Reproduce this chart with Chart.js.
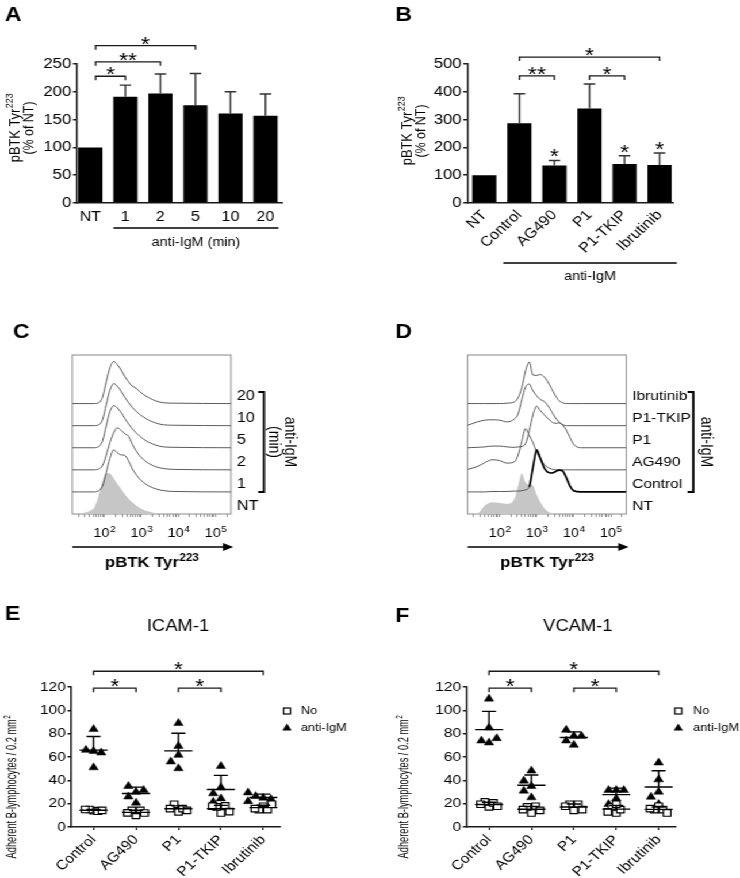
<!DOCTYPE html>
<html>
<head>
<meta charset="utf-8">
<title>pBTK Tyr223 and B-lymphocyte adhesion</title>
<script src="https://cdn.jsdelivr.net/npm/chart.js@4.4.1/dist/chart.umd.min.js"></script>
<style>
  html, body { margin: 0; padding: 0; background: #fff; }
  #fig { position: relative; width: 644px; height: 878px; transform: scaleX(1.15); transform-origin: 0 0; }
  #fig canvas { position: absolute; }
</style>
</head>
<body>
<div id="fig"></div>
<script>
// ----- data -----

// A: pBTK Tyr223 (% of NT) after anti-IgM, by minutes
const timeLabels = ['NT', '1', '2', '5', '10', '20'];
const timeMean = [100, 191, 197, 176, 161, 157];
const timeSD = [0, 21, 35, 57, 39, 39];

// B: pBTK Tyr223 (% of NT) with inhibitors
const treatLabels = ['NT', 'Control', 'AG490', 'P1', 'P1-TKIP', 'Ibrutinib'];
const treatMean = [100, 287, 135, 340, 140, 137];
const treatSD = [0, 106, 18, 88, 30, 43];
const treatStars = ['', '', '*', '', '*', '*'];

// C: histograms, height in % of each curve's mode, x in log decades
const histTimeX = [1.14, 1.7, 1.85, 1.95, 2.05, 2.15, 2.25, 2.35, 2.45, 2.55, 2.65, 2.75, 2.85, 2.95, 3.05, 3.2, 3.4, 3.6, 3.9, 5.42];
const histTime_NT = [0, 12, 45, 78, 97, 96, 85, 72, 60, 47, 37, 28, 21, 15, 10, 6, 2, 1, 0, 0];
const histTime_1 = [0, 0, 3, 14, 46, 80, 100, 93, 88, 87, 74, 56, 42, 31, 23, 14, 7, 3, 1, 0];
const histTime_2 = [0, 0, 2, 10, 35, 65, 88, 100, 94, 86, 80, 62, 46, 34, 25, 15, 7, 3, 1, 0];
const histTime_5 = [0, 0, 3, 16, 52, 86, 100, 95, 84, 70, 57, 46, 36, 28, 21, 13, 6, 2, 1, 0];
const histTime_10 = [0, 0, 2, 14, 50, 84, 100, 94, 82, 68, 55, 44, 35, 27, 21, 13, 6, 2, 1, 0];
const histTime_20 = [0, 0, 2, 15, 52, 85, 100, 93, 80, 65, 52, 42, 37, 29, 22, 14, 6, 2, 1, 0];

// D: histograms with inhibitors
const histTreatX = [1.14, 1.4, 1.6, 1.8, 2.0, 2.2, 2.4, 2.5, 2.6, 2.7, 2.8, 2.9, 3.0, 3.1, 3.2, 3.3, 3.4, 3.5, 3.6, 3.7, 3.8, 3.9, 4.0, 4.2, 5.42];
const histTreat_NT = [0, 1, 20, 28, 26, 24, 36, 68, 96, 75, 70, 68, 46, 28, 15, 6, 2, 0, 0, 0, 0, 0, 0, 0, 0];
const histTreat_Control = [0, 0, 0, 1, 1, 1, 2, 2, 3, 5, 12, 58, 100, 80, 58, 47, 45, 48, 52, 50, 34, 14, 3, 0, 0];
const histTreat_AG490 = [1, 8, 17, 24, 22, 16, 19, 35, 68, 98, 82, 65, 42, 26, 13, 6, 2, 0, 0, 0, 0, 0, 0, 0, 0];
const histTreat_P1 = [0, 1, 2, 4, 4, 2, 1, 2, 3, 10, 40, 78, 99, 88, 79, 70, 62, 58, 59, 54, 42, 24, 8, 0, 0];
const histTreat_TKIP = [1, 9, 13, 14, 13, 9, 16, 28, 62, 92, 99, 83, 71, 62, 58, 48, 34, 20, 9, 3, 0, 0, 0, 0, 0];
const histTreat_Ibru = [0, 0, 0, 0, 0, 1, 4, 14, 38, 78, 99, 68, 67, 69, 64, 52, 36, 20, 7, 2, 0, 0, 0, 0, 0];
const histTreatNames = ['NT', 'Control', 'AG490', 'P1', 'P1-TKIP', 'Ibrutinib'];
const histDecades = [2, 3, 4, 5];

// E, F: adherent B-lymphocytes / 0.2 mm2
const adhGroups = ['Control', 'AG490', 'P1', 'P1-TKIP', 'Ibrutinib'];
const icamNo = [
  [14, 15, 13.5, 15, 14.2],
  [10, 14.3, 14.3, 12.1, 12],
  [12.9, 19.5, 15.8, 15.8, 14.3],
  [12, 17.2, 18.1, 17.8, 13.2],
  [17.8, 14.9, 14.9, 15.8, 19.5]
];
const icamIgM = [
  [83.8, 65.1, 66, 63.7, 51],
  [30, 35, 31.6, 26, 20.7],
  [89, 61.7, 69.4, 56, 50.2],
  [52.2, 33.9, 28.7, 24.4, 21.5],
  [25, 26.4, 23.8, 29.5, 22]
];
const vcamNo = [
  [17.2, 21.5, 20.7, 19.5, 17.8],
  [12, 17.2, 17.8, 14.9, 14.3],
  [14.3, 19.5, 19.5, 17.8, 14.9],
  [12, 17.2, 14.9, 19.5, 12.9],
  [17.8, 14.9, 14.9, 15.8, 12]
];
const vcamIgM = [
  [109.9, 85.2, 72.3, 74, 76],
  [48.2, 35, 39.6, 31, 25.3],
  [78, 83.2, 78, 74, 70.3],
  [31.6, 31.6, 31.6, 24.4, 19.5],
  [55.1, 40.7, 30.1, 25.8, 19.5]
];

// ----- setup -----
const S = 1.15;   // the figure is drawn narrow then stretched, like the original
const FONT = '"Liberation Sans", Arial, Helvetica, sans-serif';
const INK = '#1a1a1a';

Chart.defaults.font.family = FONT;
Chart.defaults.font.size = 12;
Chart.defaults.color = '#000';
Chart.defaults.animation = false;
Chart.defaults.responsive = false;
Chart.defaults.devicePixelRatio = 1;
Chart.defaults.plugins.legend.display = false;
Chart.defaults.plugins.tooltip.enabled = false;

const fig = document.getElementById('fig');

function makeCanvas(box) {
  const c = document.createElement('canvas');
  c.width = Math.round(box.w / S);
  c.height = box.h;
  c.style.left = (box.x / S) + 'px';
  c.style.top = box.y + 'px';
  fig.appendChild(c);
  return c;
}

// figure coords -> canvas coords
function refPos(box) {
  return { x: rx => (rx - box.x) / S, y: ry => ry - box.y };
}

// pins the plot area to a rectangle of the figure
function fitArea(box, area, leftAxis = true, rightW = 0) {
  const yWidth = (area.left - box.x) / S;
  return {
    layout: { padding: {
      left: leftAxis ? 0 : yWidth,
      top: area.top - box.y,
      right: (box.x + box.w - area.right) / S - rightW,
      bottom: 0
    } },
    yWidth: yWidth,
    xHeight: box.y + box.h - area.bottom
  };
}
const fixW = w => s => { s.width = w; s.paddingTop = 0; s.paddingBottom = 0; };
const fixH = h => s => { s.height = h; s.paddingLeft = 0; s.paddingRight = 0; };

function overlay(draw) {
  return { id: 'overlay', afterDraw: chart => { const ctx = chart.ctx; ctx.save(); draw(chart, ctx); ctx.restore(); } };
}

function text(ctx, str, x, y, size, opts = {}) {
  ctx.save();
  ctx.font = (opts.bold ? 'bold ' : '') + size + 'px ' + FONT;
  ctx.fillStyle = '#000';
  ctx.textAlign = opts.align || 'center';
  ctx.textBaseline = opts.baseline || 'middle';
  ctx.translate(x, y);
  if (opts.rotate) ctx.rotate(opts.rotate);
  if (opts.squeeze) ctx.scale(opts.squeeze, 1);
  ctx.fillText(str, 0, 0);
  ctx.restore();
}

// centred text with a raised superscript part
function supText(ctx, base, sup, x, y, size, opts = {}) {
  const w = opts.bold ? 'bold ' : '';
  const bf = w + size + 'px ' + FONT;
  const sf = w + (size * 0.7).toFixed(1) + 'px ' + FONT;
  ctx.save();
  ctx.translate(x, y);
  if (opts.rotate) ctx.rotate(opts.rotate);
  if (opts.squeeze) ctx.scale(opts.squeeze, 1);
  ctx.font = bf;
  const w1 = ctx.measureText(base).width;
  ctx.font = sf;
  const w2 = ctx.measureText(sup).width;
  const x0 = -(w1 + w2) / 2;
  ctx.fillStyle = '#000';
  ctx.textAlign = 'left';
  ctx.textBaseline = 'middle';
  ctx.font = bf;
  ctx.fillText(base, x0, 0);
  ctx.font = sf;
  ctx.fillText(sup, x0 + w1 + 0.5, -size * 0.36);
  ctx.restore();
}

function letter(ctx, at, str, rx, ry) {
  text(ctx, str, at.x(rx), at.y(ry), 20, { bold: true, align: 'left', baseline: 'alphabetic' });
}

function bracket(ctx, x1, x2, y, stars) {
  ctx.strokeStyle = INK;
  ctx.lineWidth = 1.3;
  ctx.beginPath();
  ctx.moveTo(x1, y + 4); ctx.lineTo(x1, y); ctx.lineTo(x2, y); ctx.lineTo(x2, y + 4);
  ctx.stroke();
  text(ctx, stars, (x1 + x2) / 2, y + 5, 20, { baseline: 'alphabetic' });
}

const mean = a => a.reduce((s, v) => s + v, 0) / a.length;
const stdev = a => { const m = mean(a); return Math.sqrt(a.reduce((s, v) => s + (v - m) ** 2, 0) / (a.length - 1)); };

// column scatter: points that would overlap go side by side
function swarm(groups, step, near) {
  const pts = [];
  groups.forEach((vals, g) => {
    const placed = [];
    vals.forEach(v => {
      const slot = [0, -1, 1, -2, 2, -3, 3].find(s => !placed.some(p => p.s === s && Math.abs(p.v - v) < near));
      placed.push({ s: slot, v: v });
      pts.push({ x: g + slot * step, y: v });
    });
  });
  return pts;
}

// ----- A / B: bars with mean + SD -----
function barPanel(c) {
  const f = fitArea(c.box, c.area);
  const at = refPos(c.box);
  new Chart(makeCanvas(c.box), {
    type: 'bar',
    data: {
      datasets: [{
        data: c.mean.map((v, i) => ({ x: i, y: v })),
        backgroundColor: '#000',
        categoryPercentage: 1,
        barPercentage: 0.69
      }]
    },
    options: {
      layout: f.layout,
      scales: {
        x: {
          type: 'linear', min: c.xMin, max: c.xMax, offset: false,
          afterFit: fixH(f.xHeight),
          afterBuildTicks: s => { s.ticks = c.labels.map((_, i) => ({ value: i })); },
          grid: { display: false, drawTicks: false, offset: false },
          border: { color: INK, width: 1.5 },
          ticks: { autoSkip: false, padding: c.tickPad, font: { size: 14 },
                   minRotation: c.rotation, maxRotation: c.rotation, callback: v => c.labels[v] }
        },
        y: {
          min: 0, max: c.yMax,
          afterFit: fixW(f.yWidth),
          ticks: { stepSize: c.yStep, padding: 1.5, font: { size: 14.5 } },
          grid: { drawOnChartArea: false, tickLength: 3.5, color: INK, lineWidth: 1.5 },
          border: { color: INK, width: 1.5 }
        }
      }
    },
    plugins: [overlay((chart, ctx) => {
      const { x, y } = chart.scales;
      letter(ctx, at, c.letter, c.letterAt[0], c.letterAt[1]);
      supText(ctx, 'pBTK Tyr', '223', at.x(c.titleX[0]), at.y(c.titleY), 13.5, { rotate: -Math.PI / 2, squeeze: 0.95 });
      text(ctx, '(% of NT)', at.x(c.titleX[1]), at.y(c.titleY), 13.5, { rotate: -Math.PI / 2, squeeze: 0.92 });

      ctx.strokeStyle = '#333';
      ctx.lineWidth = 1.4;
      c.mean.forEach((m, i) => {
        if (!c.sd[i]) return;
        const px = x.getPixelForValue(i);
        const top = y.getPixelForValue(m + c.sd[i]);
        ctx.beginPath();
        ctx.moveTo(px, y.getPixelForValue(m)); ctx.lineTo(px, top);
        ctx.moveTo(px - 5, top); ctx.lineTo(px + 5, top);
        ctx.stroke();
        if (c.stars && c.stars[i]) text(ctx, c.stars[i], px, top + 3, 20, { baseline: 'alphabetic' });
      });

      c.brackets.forEach(b => bracket(ctx, x.getPixelForValue(b[0]), x.getPixelForValue(b[1]), y.getPixelForValue(b[2]), b[3]));

      const u = c.under;
      ctx.strokeStyle = '#000';
      ctx.lineWidth = 1.3;
      ctx.beginPath();
      ctx.moveTo(x.getPixelForValue(u.from), at.y(u.y));
      ctx.lineTo(x.getPixelForValue(u.to), at.y(u.y));
      ctx.stroke();
      text(ctx, u.text, x.getPixelForValue((u.from + u.to) / 2), at.y(u.textY), 12.5);
    })]
  });
}

// ----- C / D: offset histograms -----
function histPanel(c) {
  const rightW = 90 / S;
  const f = fitArea(c.box, c.area, false, rightW);
  const at = refPos(c.box);
  const STEP = 52.5;
  const decadeTicks = [];
  for (let d = 1; d <= 5; d++) {
    for (let k = 1; k <= 9; k++) {
      const v = d + Math.log10(k);
      if (v >= 1.2 && v <= 5.4) decadeTicks.push(v);
    }
  }
  const datasets = c.traces.map((h, k) => ({
    data: c.xs.map((xv, i) => ({ x: xv, y: k * STEP + h[i] })),
    pointRadius: 0,
    cubicInterpolationMode: 'monotone',
    borderColor: k === 0 ? 'rgba(0,0,0,0)' : '#4a4a4a',
    borderWidth: k === 0 ? 0 : 0.9,
    backgroundColor: '#c6c6c6',
    fill: k === 0 ? 'origin' : false,
    order: k === 0 ? 10 : 1,
    segment: c.bold === k ? {
      borderColor: s => s.p0.parsed.x >= 2.75 ? '#000' : '#4a4a4a',
      borderWidth: s => s.p0.parsed.x >= 2.75 ? 1.7 : 0.9
    } : undefined
  }));
  new Chart(makeCanvas(c.box), {
    type: 'line',
    data: { datasets: datasets },
    options: {
      layout: f.layout,
      scales: {
        x: {
          type: 'linear', min: 1.135, max: 5.42,
          afterFit: fixH(f.xHeight),
          afterBuildTicks: s => { s.ticks = decadeTicks.map(v => ({ value: v })); },
          grid: { drawOnChartArea: false, tickLength: 3, color: '#777', lineWidth: 0.8 },
          border: { display: false },
          ticks: { display: false }
        },
        y: { display: false, min: 0, max: 378 },
        y2: {
          position: 'right', min: 0, max: 378,
          afterFit: fixW(rightW),
          afterBuildTicks: s => { s.ticks = c.names.map((_, k) => ({ value: k * STEP + 18 })); },
          grid: { display: false, drawTicks: false },
          border: { display: false },
          ticks: { autoSkip: false, padding: 6 / S, font: { size: c.nameSize }, callback: (v, i) => c.names[i] }
        }
      }
    },
    plugins: [{
      id: 'frame',
      beforeDatasetsDraw: chart => {
        const a = chart.chartArea, ctx = chart.ctx;
        ctx.save();
        ctx.strokeStyle = '#8a8a8a';
        ctx.lineWidth = 1;
        ctx.strokeRect(a.left, a.top, a.right - a.left, a.bottom - a.top);
        ctx.restore();
      }
    }, overlay((chart, ctx) => {
      const a = chart.chartArea;
      const x = chart.scales.x;
      letter(ctx, at, c.letter, c.letterAt[0], c.letterAt[1]);

      // decade labels 10^n
      histDecades.forEach(d => supText(ctx, '10', String(d), x.getPixelForValue(d), at.y(534), 12.5));

      // arrow under the axis and its title
      const ay = at.y(547);
      ctx.strokeStyle = '#000';
      ctx.fillStyle = '#000';
      ctx.lineWidth = 1.5;
      ctx.beginPath();
      ctx.moveTo(a.left, ay); ctx.lineTo(a.right - 4, ay);
      ctx.stroke();
      ctx.beginPath();
      ctx.moveTo(a.right + 2, ay); ctx.lineTo(a.right - 7, ay - 4); ctx.lineTo(a.right - 7, ay + 4);
      ctx.closePath(); ctx.fill();
      supText(ctx, 'pBTK Tyr', '223', (a.left + a.right) / 2, at.y(563), 14.5, { bold: true });

      // right bracket
      const bx = at.x(c.bracketX);
      ctx.lineWidth = 2;
      ctx.beginPath();
      ctx.moveTo(bx - 5, at.y(392)); ctx.lineTo(bx, at.y(392)); ctx.lineTo(bx, at.y(492)); ctx.lineTo(bx - 5, at.y(492));
      ctx.stroke();
      c.side.forEach((t, i) => text(ctx, t, at.x(c.sideX[i]), at.y(442), 14, { rotate: Math.PI / 2 }));
    })]
  });
}

// ----- E / F: column scatter with mean + SD -----
function scatterPanel(c) {
  const f = fitArea(c.box, c.area);
  const at = refPos(c.box);
  new Chart(makeCanvas(c.box), {
    type: 'scatter',
    data: {
      datasets: [
        { label: 'No', data: swarm(c.no, 0.1, 7), pointStyle: 'rect', pointRadius: 4.6,
          backgroundColor: '#fff', borderColor: '#000', borderWidth: 1.2 },
        { label: 'anti-IgM', data: swarm(c.igm, 0.18, 6), pointStyle: 'triangle', pointRadius: 4.7,
          backgroundColor: '#000', borderColor: '#000', borderWidth: 0.5 }
      ]
    },
    options: {
      layout: f.layout,
      clip: false,
      scales: {
        x: {
          type: 'linear', min: -0.52, max: 4.4,
          afterFit: fixH(f.xHeight),
          afterBuildTicks: s => { s.ticks = adhGroups.map((_, i) => ({ value: i })); },
          grid: { drawOnChartArea: false, tickLength: 3, color: INK, lineWidth: 1.2 },
          border: { color: INK, width: 1.5 },
          ticks: { autoSkip: false, padding: 2, font: { size: 13.5 },
                   minRotation: 46, maxRotation: 46, callback: v => adhGroups[v] }
        },
        y: {
          min: 0, max: 120,
          afterFit: fixW(f.yWidth),
          ticks: { stepSize: 20, padding: 1.5, font: { size: 13.5 } },
          grid: { drawOnChartArea: false, tickLength: 3.5, color: INK, lineWidth: 1.5 },
          border: { color: INK, width: 1.5 }
        }
      }
    },
    plugins: [overlay((chart, ctx) => {
      const { x, y } = chart.scales;
      letter(ctx, at, c.letter, c.letterAt[0], c.letterAt[1]);
      text(ctx, c.title, at.x(c.titleAt[0]), at.y(c.titleAt[1]), 16);
      supText(ctx, 'Adherent B-lymphocytes / 0.2 mm', '2', at.x(c.yTitleAt[0]), at.y(c.yTitleAt[1]), 12,
              { rotate: -Math.PI / 2, squeeze: 0.77 });

      // mean line with upper SD
      ctx.strokeStyle = '#000';
      ctx.lineWidth = 1.4;
      [c.no, c.igm].forEach(series => series.forEach((vals, g) => {
        const m = y.getPixelForValue(mean(vals));
        const top = y.getPixelForValue(mean(vals) + stdev(vals));
        ctx.beginPath();
        ctx.moveTo(x.getPixelForValue(g - 0.33), m); ctx.lineTo(x.getPixelForValue(g + 0.33), m);
        ctx.moveTo(x.getPixelForValue(g), m); ctx.lineTo(x.getPixelForValue(g), top);
        ctx.moveTo(x.getPixelForValue(g - 0.165), top); ctx.lineTo(x.getPixelForValue(g + 0.165), top);
        ctx.stroke();
      }));

      c.brackets.forEach(b => bracket(ctx, x.getPixelForValue(b[0]), x.getPixelForValue(b[1]), y.getPixelForValue(b[2]), b[3]));

      // legend
      const lx = at.x(c.legendAt[0]), ly1 = at.y(711), ly2 = at.y(728);
      ctx.lineWidth = 1.2;
      ctx.strokeStyle = '#000';
      ctx.fillStyle = '#fff';
      ctx.fillRect(lx - 3, ly1 - 3, 6, 6);
      ctx.strokeRect(lx - 3, ly1 - 3, 6, 6);
      ctx.fillStyle = '#000';
      ctx.beginPath();
      ctx.moveTo(lx, ly2 - 4.5); ctx.lineTo(lx + 4, ly2 + 2.5); ctx.lineTo(lx - 4, ly2 + 2.5);
      ctx.closePath(); ctx.fill();
      text(ctx, 'No', at.x(c.legendAt[1]), ly1, 11, { align: 'left' });
      text(ctx, 'anti-IgM', at.x(c.legendAt[1]), ly2, 11, { align: 'left' });
    })]
  });
}

// ----- panels -----
barPanel({
  box: { x: 0, y: 0, w: 370, h: 300 }, area: { left: 77, right: 282, top: 64, bottom: 203 },
  letter: 'A', letterAt: [5, 21], titleX: [15, 29], titleY: 128,
  labels: timeLabels, mean: timeMean, sd: timeSD,
  xMin: -0.38, xMax: 5.48, yMax: 250, yStep: 50, rotation: 0, tickPad: 6,
  brackets: [[0.15, 1, 228, '*'], [0.15, 2, 254, '**'], [0.15, 3, 283, '*']],
  under: { from: 0.66, to: 5.37, y: 228, text: 'anti-IgM (min)', textY: 243 }
});

barPanel({
  box: { x: 370, y: 0, w: 370, h: 300 }, area: { left: 467, right: 673, top: 64, bottom: 203 },
  letter: 'B', letterAt: [395, 21], titleX: [407, 421], titleY: 131,
  labels: treatLabels, mean: treatMean, sd: treatSD, stars: treatStars,
  xMin: -0.486, xMax: 5.4, yMax: 500, yStep: 100, rotation: 46, tickPad: 4,
  brackets: [[1, 2, 457, '**'], [3, 4, 457, '*'], [1, 5, 525, '*']],
  under: { from: 0.54, to: 5.49, y: 263, text: 'anti-IgM', textY: 277 }
});

histPanel({
  box: { x: 0, y: 300, w: 370, h: 290 }, area: { left: 72.3, right: 230.7, top: 355, bottom: 514 },
  letter: 'C', letterAt: [13, 338],
  xs: histTimeX,
  traces: [histTime_NT, histTime_1, histTime_2, histTime_5, histTime_10, histTime_20],
  names: timeLabels, nameSize: 14,
  bracketX: 264, side: ['anti-IgM', '(min)'], sideX: [290, 274]
});

histPanel({
  box: { x: 370, y: 300, w: 370, h: 290 }, area: { left: 467.3, right: 625.7, top: 355, bottom: 514 },
  letter: 'D', letterAt: [395, 338],
  xs: histTreatX,
  traces: [histTreat_NT, histTreat_Control, histTreat_AG490, histTreat_P1, histTreat_TKIP, histTreat_Ibru],
  names: histTreatNames, nameSize: 13.5, bold: 1,
  bracketX: 693, side: ['anti-IgM'], sideX: [706]
});

scatterPanel({
  box: { x: 0, y: 590, w: 370, h: 288 }, area: { left: 71.5, right: 280, top: 687, bottom: 827 },
  letter: 'E', letterAt: [5, 620], title: 'ICAM-1', titleAt: [178, 627], yTitleAt: [12.5, 787],
  no: icamNo, igm: icamIgM, legendAt: [287, 301],
  brackets: [[0, 4, 133.5, '*'], [0, 1, 119, '*'], [2, 3, 119, '*']]
});

scatterPanel({
  box: { x: 370, y: 590, w: 370, h: 288 }, area: { left: 466.7, right: 675, top: 687, bottom: 827 },
  letter: 'F', letterAt: [395, 622], title: 'VCAM-1', titleAt: [577.5, 627], yTitleAt: [404, 787],
  no: vcamNo, igm: vcamIgM, legendAt: [678, 693],
  brackets: [[0, 4, 133.5, '*'], [0, 1, 119, '*'], [2, 3, 119, '*']]
});
</script>
</body>
</html>
